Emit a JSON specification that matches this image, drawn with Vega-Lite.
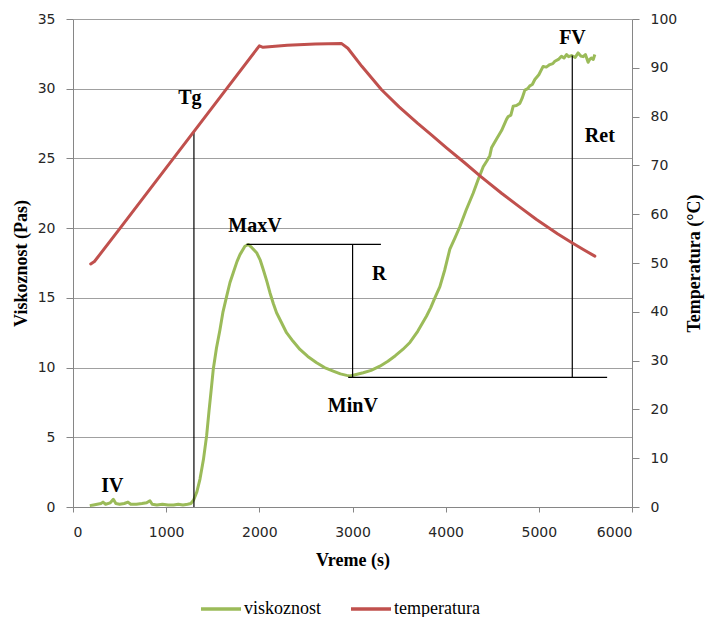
{
  "$schema": "https://vega.github.io/schema/vega-lite/v6.json",
  "width": 559,
  "height": 488,
  "autosize": {"type": "none"},
  "padding": {"left": 73, "top": 19, "right": 75, "bottom": 110},
  "background": "white",
  "config": {
    "view": {"stroke": null},
    "axis": {
      "labelFont": "DejaVu Sans",
      "labelFontSize": 14,
      "labelColor": "#262626",
      "titleFont": "Liberation Serif",
      "titleFontWeight": "bold",
      "titleFontSize": 18,
      "titleColor": "#000000",
      "domainColor": "#868686",
      "tickColor": "#868686",
      "gridColor": "#a0a0a0"
    }
  },
  "datasets": {
    "visc": [
      {"t": 180, "v": 0.1}, {"t": 220, "v": 0.15}, {"t": 260, "v": 0.2}, {"t": 300, "v": 0.25}, {"t": 322, "v": 0.35},
      {"t": 350, "v": 0.2}, {"t": 400, "v": 0.3}, {"t": 433, "v": 0.55}, {"t": 460, "v": 0.25}, {"t": 500, "v": 0.2},
      {"t": 550, "v": 0.25}, {"t": 590, "v": 0.35}, {"t": 620, "v": 0.2}, {"t": 680, "v": 0.2}, {"t": 740, "v": 0.25},
      {"t": 790, "v": 0.3}, {"t": 826, "v": 0.45}, {"t": 850, "v": 0.2}, {"t": 900, "v": 0.15}, {"t": 960, "v": 0.2},
      {"t": 1020, "v": 0.15}, {"t": 1080, "v": 0.15}, {"t": 1130, "v": 0.2}, {"t": 1180, "v": 0.15}, {"t": 1230, "v": 0.2},
      {"t": 1265, "v": 0.25}, {"t": 1295, "v": 0.5}, {"t": 1330, "v": 1.1}, {"t": 1363, "v": 2.0}, {"t": 1400, "v": 3.4},
      {"t": 1434, "v": 5.1}, {"t": 1460, "v": 6.9}, {"t": 1488, "v": 8.7}, {"t": 1506, "v": 9.9}, {"t": 1540, "v": 11.4},
      {"t": 1577, "v": 12.7}, {"t": 1610, "v": 14.0}, {"t": 1649, "v": 15.1}, {"t": 1685, "v": 16.1}, {"t": 1720, "v": 16.8},
      {"t": 1760, "v": 17.6}, {"t": 1792, "v": 18.1}, {"t": 1845, "v": 18.7}, {"t": 1881, "v": 18.83}, {"t": 1920, "v": 18.6},
      {"t": 1971, "v": 18.24}, {"t": 2010, "v": 17.7}, {"t": 2042, "v": 17.04}, {"t": 2080, "v": 16.2}, {"t": 2114, "v": 15.37},
      {"t": 2150, "v": 14.6}, {"t": 2185, "v": 13.93}, {"t": 2240, "v": 13.2}, {"t": 2292, "v": 12.5}, {"t": 2360, "v": 11.9},
      {"t": 2436, "v": 11.3}, {"t": 2520, "v": 10.8}, {"t": 2615, "v": 10.35}, {"t": 2700, "v": 10.0}, {"t": 2793, "v": 9.75},
      {"t": 2870, "v": 9.55}, {"t": 2937, "v": 9.44}, {"t": 2972, "v": 9.39}, {"t": 3040, "v": 9.5}, {"t": 3115, "v": 9.63},
      {"t": 3200, "v": 9.8}, {"t": 3294, "v": 10.1}, {"t": 3380, "v": 10.45}, {"t": 3460, "v": 10.85}, {"t": 3540, "v": 11.3},
      {"t": 3616, "v": 11.8}, {"t": 3700, "v": 12.6}, {"t": 3795, "v": 13.7}, {"t": 3840, "v": 14.3}, {"t": 3884, "v": 15.0},
      {"t": 3938, "v": 15.8}, {"t": 3990, "v": 17.0}, {"t": 4045, "v": 18.5}, {"t": 4100, "v": 19.3}, {"t": 4152, "v": 20.1},
      {"t": 4220, "v": 21.3}, {"t": 4295, "v": 22.5}, {"t": 4350, "v": 23.5}, {"t": 4403, "v": 24.4}, {"t": 4440, "v": 24.8},
      {"t": 4474, "v": 25.2}, {"t": 4492, "v": 25.76}, {"t": 4546, "v": 26.4}, {"t": 4600, "v": 27.0}, {"t": 4653, "v": 27.8},
      {"t": 4671, "v": 28.0}, {"t": 4700, "v": 28.1}, {"t": 4725, "v": 28.75}, {"t": 4760, "v": 28.8}, {"t": 4796, "v": 28.95},
      {"t": 4820, "v": 29.3}, {"t": 4850, "v": 29.9}, {"t": 4880, "v": 30.0}, {"t": 4903, "v": 30.2}, {"t": 4930, "v": 30.3},
      {"t": 4957, "v": 30.66}, {"t": 5000, "v": 31.0}, {"t": 5046, "v": 31.6}, {"t": 5080, "v": 31.55}, {"t": 5118, "v": 31.73},
      {"t": 5150, "v": 31.8}, {"t": 5172, "v": 31.97}, {"t": 5210, "v": 32.1}, {"t": 5243, "v": 32.33}, {"t": 5270, "v": 32.2},
      {"t": 5297, "v": 32.45}, {"t": 5320, "v": 32.3}, {"t": 5351, "v": 32.38}, {"t": 5390, "v": 32.25}, {"t": 5422, "v": 32.57},
      {"t": 5450, "v": 32.35}, {"t": 5476, "v": 32.3}, {"t": 5500, "v": 32.45}, {"t": 5529, "v": 31.9}, {"t": 5545, "v": 32.1},
      {"t": 5565, "v": 32.2}, {"t": 5585, "v": 32.1}, {"t": 5601, "v": 32.45}
    ],
    "temp": [
      {"t": 190, "v": 49.8}, {"t": 230, "v": 50.3}, {"t": 500, "v": 57.0}, {"t": 1000, "v": 69.5}, {"t": 1500, "v": 82.0},
      {"t": 2000, "v": 94.5}, {"t": 2040, "v": 94.2}, {"t": 2300, "v": 94.6}, {"t": 2600, "v": 94.9}, {"t": 2880, "v": 95.0},
      {"t": 2950, "v": 94.0}, {"t": 3100, "v": 90.3}, {"t": 3312, "v": 85.5}, {"t": 3500, "v": 82.0}, {"t": 3700, "v": 78.6},
      {"t": 3850, "v": 76.2}, {"t": 4009, "v": 73.6}, {"t": 4200, "v": 70.6}, {"t": 4378, "v": 67.7}, {"t": 4600, "v": 64.3},
      {"t": 4800, "v": 61.4}, {"t": 4975, "v": 58.9}, {"t": 5200, "v": 56.0}, {"t": 5351, "v": 54.2}, {"t": 5500, "v": 52.5},
      {"t": 5601, "v": 51.4}
    ],
    "rules": [
      {"x": 1298, "x2": 1298, "y": 0, "y2": 26.9},
      {"x": 1863, "x2": 3305, "y": 18.83, "y2": 18.83},
      {"x": 3001, "x2": 3001, "y": 18.83, "y2": 9.3},
      {"x": 2954, "x2": 5733, "y": 9.3, "y2": 9.3},
      {"x": 5359, "x2": 5359, "y": 9.3, "y2": 32.38}
    ],
    "labels": [
      {"x": 1255, "y": 29.35, "label": "Tg"},
      {"x": 1953, "y": 20.14, "label": "MaxV"},
      {"x": 3287, "y": 16.68, "label": "R"},
      {"x": 3004, "y": 7.24, "label": "MinV"},
      {"x": 5361, "y": 33.65, "label": "FV"},
      {"x": 5655, "y": 26.6, "label": "Ret"},
      {"x": 422, "y": 1.5, "label": "IV"}
    ]
  },
  "layer": [
    {
      "layer": [
        {
          "data": {"name": "visc"},
          "mark": {"type": "line", "strokeWidth": 3, "strokeJoin": "round"},
          "encoding": {
            "x": {
              "field": "t", "type": "quantitative",
              "scale": {"domain": [0, 6000], "nice": false},
              "axis": {"title": "Vreme (s)", "format": "d", "values": [0, 1000, 2000, 3000, 4000, 5000, 6000], "grid": false, "tickSize": 5, "labelPadding": 13, "titleX": 279.5, "titleY": 53, "titleBaseline": "middle"}
            },
            "y": {
              "field": "v", "type": "quantitative",
              "scale": {"domain": [0, 35], "nice": false},
              "axis": {"title": "Viskoznost (Pas)", "values": [0, 5, 10, 15, 20, 25, 30, 35], "grid": true, "tickSize": 7, "labelPadding": 11, "titleX": -52, "titleY": 244, "titleBaseline": "middle", "titleAngle": -90}
            },
            "color": {
              "datum": "viskoznost",
              "type": "nominal",
              "scale": {"domain": ["viskoznost", "temperatura"], "range": ["#9BBB59", "#C0504D"]},
              "legend": {
                "title": null, "orient": "none", "direction": "horizontal",
                "legendX": 126, "legendY": 568,
                "symbolType": "stroke", "symbolSize": 1600, "symbolStrokeWidth": 3.5,
                "labelFont": "Liberation Serif", "labelFontSize": 18, "labelColor": "#000000",
                "labelOffset": 1, "columnPadding": 22, "padding": 0
              }
            }
          }
        },
        {
          "data": {"name": "rules"},
          "mark": {"type": "rule", "color": "#000000", "strokeWidth": 1.2},
          "encoding": {
            "x": {"field": "x", "type": "quantitative"},
            "x2": {"field": "x2"},
            "y": {"field": "y", "type": "quantitative"},
            "y2": {"field": "y2"}
          }
        },
        {
          "data": {"name": "labels"},
          "mark": {"type": "text", "font": "Liberation Serif", "fontWeight": "bold", "fontSize": 20, "color": "#000000", "align": "center", "baseline": "middle"},
          "encoding": {
            "x": {"field": "x", "type": "quantitative"},
            "y": {"field": "y", "type": "quantitative"},
            "text": {"field": "label"}
          }
        }
      ]
    },
    {
      "data": {"name": "temp"},
      "mark": {"type": "line", "strokeWidth": 3, "strokeJoin": "round", "strokeCap": "round"},
      "encoding": {
        "x": {"field": "t", "type": "quantitative"},
        "y": {
          "field": "v", "type": "quantitative",
          "scale": {"domain": [0, 100], "nice": false},
          "axis": {"orient": "right", "title": "Temperatura  (°C)", "values": [0, 10, 20, 30, 40, 50, 60, 70, 80, 90, 100], "grid": false, "tickSize": 7, "labelPadding": 11, "titleX": 62, "titleY": 244, "titleBaseline": "middle", "titleAngle": -90}
        },
        "color": {"datum": "temperatura", "type": "nominal"}
      }
    }
  ],
  "resolve": {"scale": {"y": "independent"}}
}
